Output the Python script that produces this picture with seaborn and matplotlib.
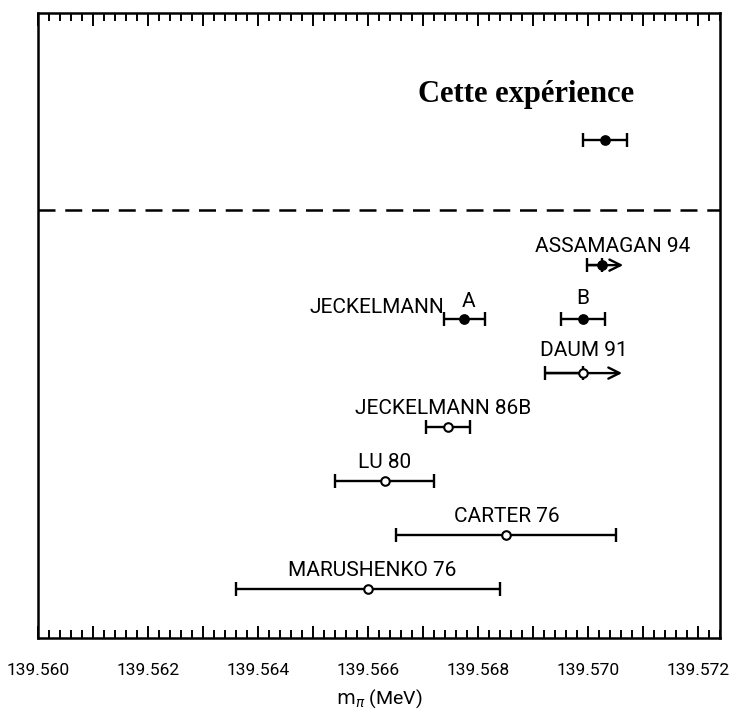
import numpy as np
import pandas as pd
import matplotlib
matplotlib.use("Agg")
import matplotlib.pyplot as plt
from matplotlib.ticker import MultipleLocator, FuncFormatter
import seaborn as sns

# Charged pion mass measurements (MeV)
experiments = ["Cette expérience", "ASSAMAGAN 94", "A", "B", "DAUM 91",
               "JECKELMANN 86B", "LU 80", "CARTER 76", "MARUSHENKO 76"]
mass = [139.57030, 139.57025, 139.56775, 139.56990, 139.56990,
        139.56745, 139.56630, 139.56850, 139.56600]
err_low = [0.00040, 0.00027, 0.00037, 0.00040, 0.00068,
           0.00040, 0.00090, 0.00200, 0.00240]
err_high = [0.00040, 0.00039, 0.00037, 0.00040, 0.00072,
            0.00040, 0.00090, 0.00200, 0.00240]
lower_limit = [False, True, False, False, True, False, False, False, False]
filled = [True, True, True, True, False, False, False, False, False]
x_ticks_labeled = ["139.560", "139.562", "139.564", "139.566",
                   "139.568", "139.570", "139.572"]

df = pd.DataFrame({"experiment": experiments, "mass": mass,
                   "err_low": err_low, "err_high": err_high,
                   "lower_limit": lower_limit, "filled": filled})

# vertical layout: one row per publication, both Jeckelmann 94 solutions share a row
row_of = {"Cette expérience": 9.31, "ASSAMAGAN 94": 7, "A": 6, "B": 6,
          "DAUM 91": 5, "JECKELMANN 86B": 4, "LU 80": 3,
          "CARTER 76": 2, "MARUSHENKO 76": 1}
df["row"] = df["experiment"].map(row_of)
separator_row = 8.02

sns.set_style("ticks")
plt.rcParams["font.family"] = ["Roboto", "DejaVu Sans"]
plt.rcParams["mathtext.fontset"] = "dejavusans"
for key in ["text.color", "axes.labelcolor", "xtick.color", "ytick.color",
            "axes.edgecolor"]:
    plt.rcParams[key] = "black"

fig = plt.figure(figsize=(7.31, 7.22), dpi=100)
ax = fig.add_axes([38 / 731, 1 - 638 / 722, 682 / 731, 625 / 722])

lw = 1.7
for _, r in df.iterrows():
    if r["lower_limit"]:
        ax.errorbar(r["mass"], r["row"], xerr=[[r["err_low"]], [0]], fmt="none",
                    ecolor="black", elinewidth=lw, capsize=5, capthick=lw)
        ax.annotate("", xy=(r["mass"] + r["err_high"], r["row"]),
                    xytext=(r["mass"] - r["err_low"], r["row"]),
                    arrowprops=dict(arrowstyle="->", lw=lw, color="black",
                                    mutation_scale=20, shrinkA=0, shrinkB=0))
    else:
        ax.errorbar(r["mass"], r["row"], xerr=[[r["err_low"]], [r["err_high"]]],
                    fmt="none", ecolor="black", elinewidth=lw,
                    capsize=5, capthick=lw)

sns.scatterplot(data=df[df["filled"]], x="mass", y="row", ax=ax, s=45,
                color="black", edgecolor="black", linewidth=1, zorder=5,
                legend=False)
sns.scatterplot(data=df[~df["filled"]], x="mass", y="row", ax=ax, s=38,
                color="white", edgecolor="black", linewidth=1.5, zorder=5,
                legend=False)

# labels above each measurement
label_shift = {"ASSAMAGAN 94": 8, "A": 3, "DAUM 91": 1, "JECKELMANN 86B": -3,
               "CARTER 76": 1, "MARUSHENKO 76": 3}
label_rise = {"DAUM 91": 16.5, "B": 15, "A": 12.5}
lab_fs = 15
for _, r in df.iterrows():
    name = r["experiment"]
    if name == "Cette expérience":
        continue
    ax.annotate(name, xy=(r["mass"], r["row"]),
                xytext=(label_shift.get(name, 0), label_rise.get(name, 13.5)),
                textcoords="offset points", ha="center", va="center",
                fontsize=lab_fs)
jeck_a = df[df["experiment"] == "A"].iloc[0]
ax.annotate("JECKELMANN", xy=(jeck_a["mass"] - jeck_a["err_low"], jeck_a["row"]),
            xytext=(0, 8.5), textcoords="offset points", ha="right",
            va="center", fontsize=lab_fs)

ax.text(0.7155, 0.869, "Cette expérience", transform=ax.transAxes,
        ha="center", va="center", fontsize=22, fontweight="bold",
        family="Liberation Serif")

ax.axhline(separator_row, color="black", lw=1.8, dashes=(6.8, 3.9))

ax.set_xlim(139.5600, 139.5724)
ax.set_ylim(0.093, 11.67)
ax.set_yticks([])
ax.xaxis.set_major_locator(MultipleLocator(0.001))
ax.xaxis.set_minor_locator(MultipleLocator(0.0002))


def fmt(v, pos):
    k = int(round((v - 139.560) / 0.001))
    if k % 2 == 0 and 0 <= k // 2 < len(x_ticks_labeled):
        return x_ticks_labeled[k // 2]
    return ""


ax.xaxis.set_major_formatter(FuncFormatter(fmt))
ax.tick_params(axis="x", which="both", direction="in", top=True, bottom=True,
               labelsize=12.5, pad=18, color="black")
ax.tick_params(axis="x", which="major", length=9, width=1.4)
ax.tick_params(axis="x", which="minor", length=5.5, width=1.4)
for sp in ax.spines.values():
    sp.set_visible(True)
    sp.set_linewidth(1.8)
    sp.set_color("black")

ax.set_xlabel(r"$\mathrm{m}_\pi$ (MeV)", fontsize=14, labelpad=7)
ax.set_ylabel("")

fig.savefig("out.png", dpi=100)
